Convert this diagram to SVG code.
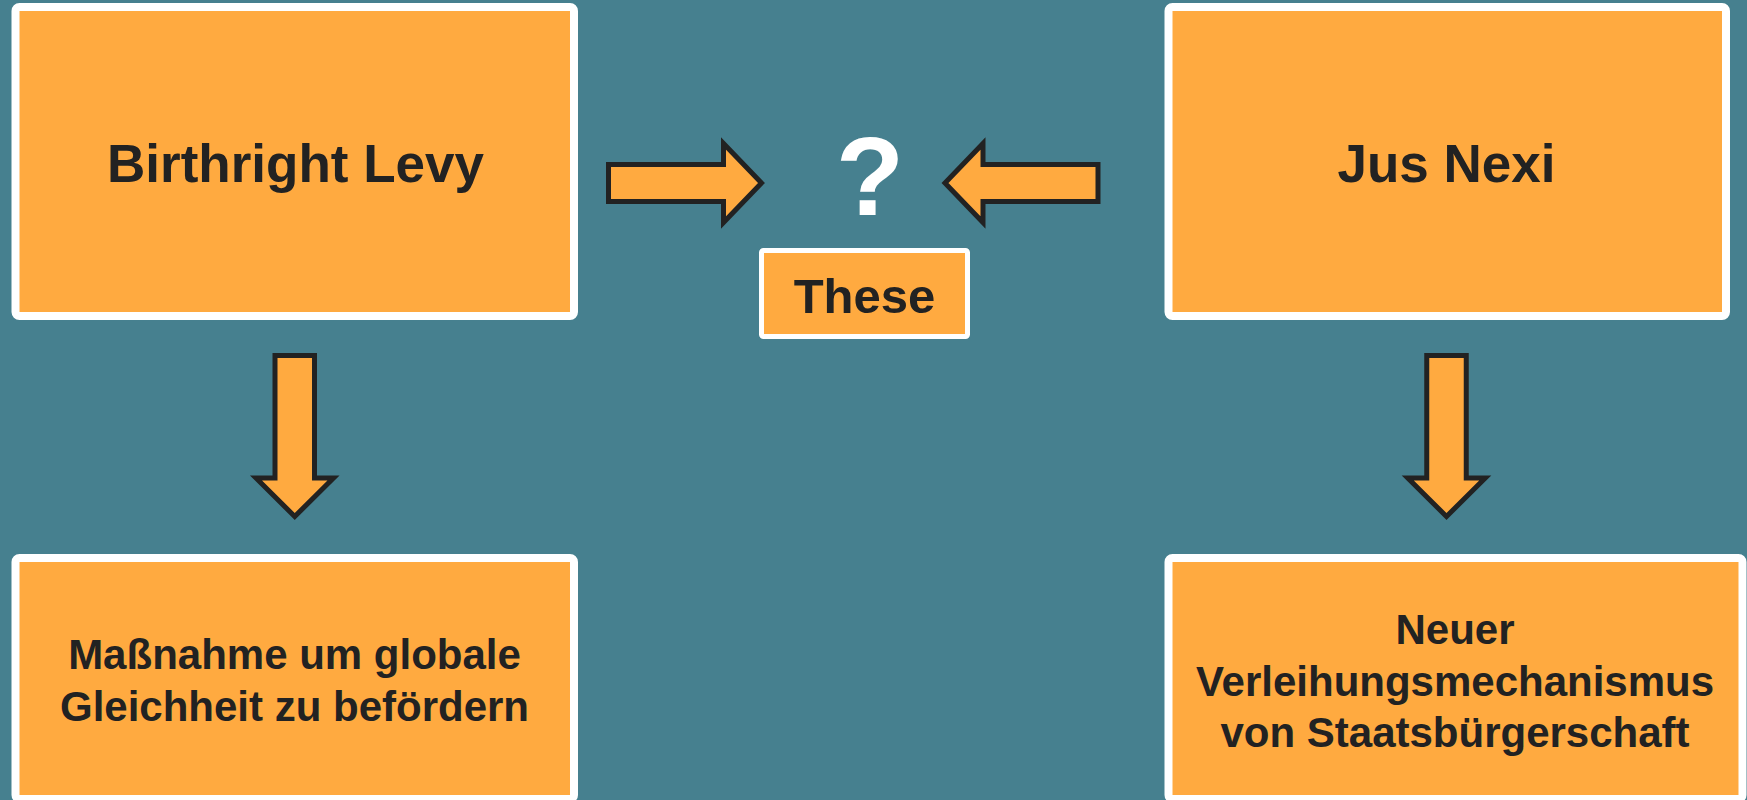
<svg xmlns="http://www.w3.org/2000/svg" width="1747" height="800" viewBox="0 0 1747 800">
<style>
.box{fill:#FFAA40;stroke:#FFFFFF;stroke-width:8}
.small{fill:#FFAA40;stroke:#FFFFFF;stroke-width:5}
.t{font-family:"Liberation Sans",Arial,sans-serif;font-weight:bold;fill:#222222;text-anchor:middle}
.arrow{fill:#FFAA40;stroke:#222222;stroke-width:5;stroke-linejoin:miter;stroke-miterlimit:10}
</style>
<rect x="0" y="0" width="1747" height="800" fill="#46808F"/>
<g id="birthright-levy">
<rect class="box" x="15.5" y="7" width="558.5" height="309" rx="4"/>
<text class="t" x="295.5" y="182" font-size="53">Birthright Levy</text>
</g>
<g id="jus-nexi">
<rect class="box" x="1168.5" y="7" width="557.5" height="309" rx="4"/>
<text class="t" x="1446.5" y="182" font-size="53">Jus Nexi</text>
</g>
<g id="question">
<text x="870" y="215" font-size="112" font-family="'Liberation Sans',Arial,sans-serif" font-weight="bold" fill="#FFFFFF" text-anchor="middle">?</text>
</g>
<g id="these">
<rect class="small" x="761.5" y="250.5" width="206" height="86" rx="2"/>
<text class="t" x="864.5" y="312.5" font-size="49">These</text>
</g>
<g id="massnahme">
<rect class="box" x="15.5" y="558" width="558.5" height="241" rx="4"/>
<text class="t" x="294.5" y="669" font-size="42">Maßnahme um globale</text>
<text class="t" x="294.5" y="721" font-size="42">Gleichheit zu befördern</text>
</g>
<g id="neuer">
<rect class="box" x="1168.5" y="558" width="574" height="241" rx="4"/>
<text class="t" x="1455" y="644" font-size="42">Neuer</text>
<text class="t" x="1455" y="696" font-size="42">Verleihungsmechanismus</text>
<text class="t" x="1455" y="747" font-size="42">von Staatsbürgerschaft</text>
</g>
<g id="connectors">
<polygon class="arrow" points="608.5,164.5 723.5,164.5 723.5,143.5 761.5,183 723.5,222.5 723.5,201.5 608.5,201.5"/>
<polygon class="arrow" points="1098,164.5 983,164.5 983,143.5 945,183 983,222.5 983,201.5 1098,201.5"/>
<polygon class="arrow" points="275,355.5 314.5,355.5 314.5,478 333.5,478 294.75,516.5 256,478 275,478"/>
<polygon class="arrow" points="1426.75,355.5 1466.25,355.5 1466.25,478 1485.25,478 1446.5,516.5 1407.75,478 1426.75,478"/>
</g>
</svg>
